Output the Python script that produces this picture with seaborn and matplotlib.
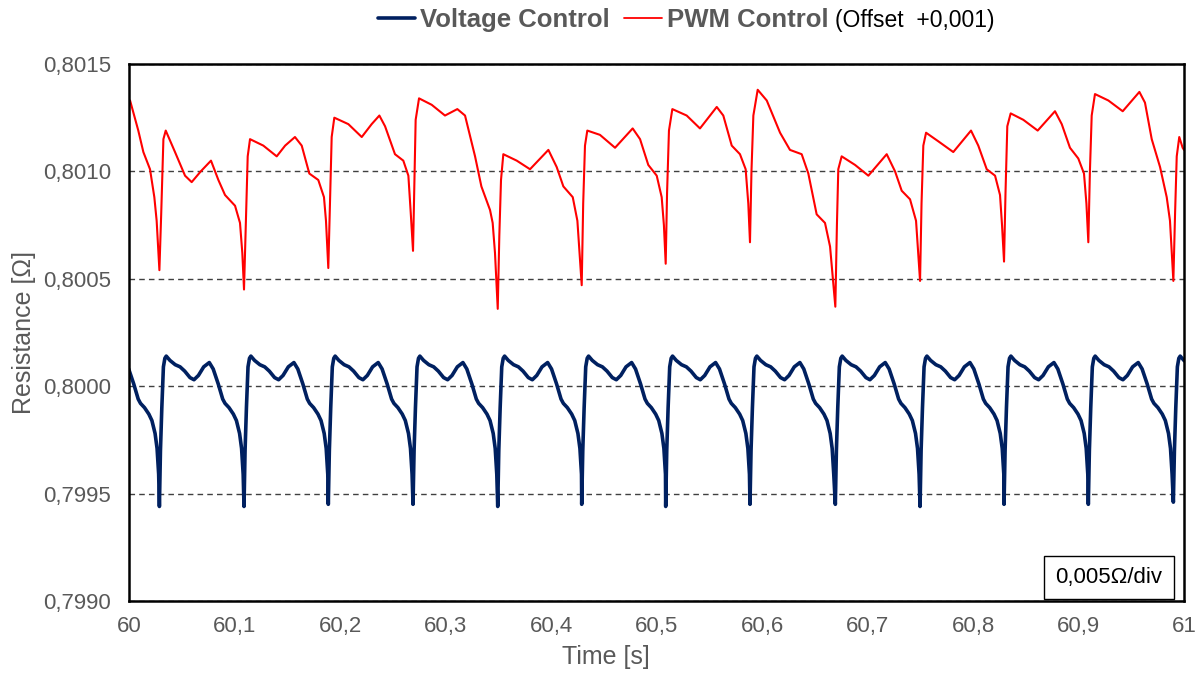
import numpy as np
import pandas as pd
import matplotlib
matplotlib.use("Agg")
import matplotlib.pyplot as plt
import seaborn as sns
from matplotlib.lines import Line2D

# Voltage control: one period, time relative to the dip minimum
vc_shape_dt = [0.0000, 0.0010, 0.0023, 0.0038, 0.0052, 0.0065, 0.0100, 0.0150,
               0.0196, 0.0240, 0.0290, 0.0328, 0.0370, 0.0420, 0.0473, 0.0510,
               0.0558, 0.0600, 0.0622, 0.0660, 0.0701, 0.0730, 0.0760, 0.0779,
               0.0794]
vc_shape_val = [0.79944, 0.79970, 0.79990, 0.80009, 0.80013, 0.80014, 0.80012, 0.80010,
                0.80009, 0.80007, 0.80004, 0.80003, 0.80005, 0.80009, 0.80011, 0.80008,
                0.80001, 0.79994, 0.79992, 0.79990, 0.79987, 0.79984, 0.79978, 0.79971,
                0.79959]

# time of each dip minimum (first one is just before the window) and its depth
dip_times = [59.9487, 60.0288, 60.1090, 60.1889, 60.2692, 60.3495, 60.4291,
             60.5087, 60.5886, 60.6695, 60.7498, 60.8294, 60.9093, 60.9899]
vc_dip_val = [0.79944, 0.79944, 0.79944, 0.79945, 0.79945, 0.79944, 0.79945,
              0.79944, 0.79945, 0.79945, 0.79944, 0.79945, 0.79945, 0.79946]

# PWM control, raw values (plotted with +0.001 offset), time in s after 60 s
pwm_t = [0.0000, 0.0010, 0.0088, 0.0136, 0.0199, 0.0240, 0.0262, 0.0276, 0.0288, 0.0305,
         0.0326, 0.0348, 0.0436, 0.0531, 0.0594, 0.0680, 0.0777, 0.0847, 0.0910, 0.1005,
         0.1052, 0.1074, 0.1090, 0.1110, 0.1125, 0.1147, 0.1273, 0.1400, 0.1480, 0.1573,
         0.1637, 0.1709, 0.1794, 0.1848, 0.1867, 0.1889, 0.1905, 0.1921, 0.1946, 0.2079,
         0.2206, 0.2300, 0.2373, 0.2427, 0.2521, 0.2600, 0.2648, 0.2670, 0.2692, 0.2705,
         0.2717, 0.2749, 0.2869, 0.2995, 0.3112, 0.3185, 0.3280, 0.3340, 0.3422, 0.3447,
         0.3469, 0.3495, 0.3510, 0.3526, 0.3548, 0.3675, 0.3801, 0.3975, 0.4054, 0.4117,
         0.4206, 0.4250, 0.4291, 0.4305, 0.4322, 0.4344, 0.4464, 0.4607, 0.4774, 0.4844,
         0.4922, 0.5002, 0.5049, 0.5070, 0.5087, 0.5100, 0.5118, 0.5150, 0.5286, 0.5412,
         0.5571, 0.5633, 0.5713, 0.5791, 0.5845, 0.5870, 0.5886, 0.5900, 0.5918, 0.5959,
         0.6045, 0.6171, 0.6265, 0.6376, 0.6439, 0.6518, 0.6597, 0.6645, 0.6695, 0.6710,
         0.6723, 0.6755, 0.6882, 0.7008, 0.7182, 0.7261, 0.7324, 0.7403, 0.7460, 0.7498,
         0.7512, 0.7529, 0.7555, 0.7671, 0.7813, 0.7981, 0.8050, 0.8130, 0.8209, 0.8256,
         0.8275, 0.8294, 0.8308, 0.8325, 0.8357, 0.8477, 0.8613, 0.8777, 0.8841, 0.8919,
         0.8998, 0.9052, 0.9075, 0.9093, 0.9108, 0.9125, 0.9156, 0.9283, 0.9419, 0.9577,
         0.9630, 0.9694, 0.9773, 0.9836, 0.9867, 0.9899, 0.9915, 0.9931, 0.9955, 0.9987,
         1.0000]
pwm_val = [0.80032, 0.80033, 0.80019, 0.80009, 0.80001, 0.79988, 0.79977, 0.79965, 0.79954, 0.79980,
           0.80015, 0.80019, 0.80009, 0.79998, 0.79995, 0.80000, 0.80005, 0.79996, 0.79989, 0.79984,
           0.79976, 0.79962, 0.79945, 0.79980, 0.80007, 0.80015, 0.80012, 0.80007, 0.80012, 0.80016,
           0.80012, 0.79999, 0.79996, 0.79988, 0.79977, 0.79955, 0.79985, 0.80016, 0.80025, 0.80022,
           0.80016, 0.80022, 0.80026, 0.80021, 0.80008, 0.80005, 0.79998, 0.79981, 0.79963, 0.79995,
           0.80024, 0.80034, 0.80031, 0.80026, 0.80029, 0.80026, 0.80007, 0.79993, 0.79982, 0.79976,
           0.79962, 0.79936, 0.79970, 0.79996, 0.80008, 0.80005, 0.80001, 0.80010, 0.80002, 0.79993,
           0.79988, 0.79977, 0.79947, 0.79985, 0.80012, 0.80019, 0.80017, 0.80011, 0.80020, 0.80015,
           0.80003, 0.79998, 0.79988, 0.79975, 0.79957, 0.79990, 0.80019, 0.80029, 0.80026, 0.80020,
           0.80030, 0.80026, 0.80012, 0.80008, 0.80001, 0.79985, 0.79967, 0.80000, 0.80026, 0.80038,
           0.80033, 0.80018, 0.80010, 0.80008, 0.79999, 0.79980, 0.79976, 0.79965, 0.79937, 0.79975,
           0.80001, 0.80007, 0.80003, 0.79998, 0.80008, 0.80000, 0.79991, 0.79987, 0.79977, 0.79949,
           0.79985, 0.80012, 0.80018, 0.80014, 0.80009, 0.80019, 0.80012, 0.80001, 0.79998, 0.79989,
           0.79975, 0.79958, 0.79990, 0.80021, 0.80027, 0.80024, 0.80019, 0.80028, 0.80022, 0.80011,
           0.80006, 0.79999, 0.79985, 0.79967, 0.80000, 0.80026, 0.80036, 0.80033, 0.80028, 0.80037,
           0.80032, 0.80015, 0.80002, 0.79988, 0.79977, 0.79949, 0.79980, 0.80007, 0.80016, 0.80011,
           0.80010]
pwm_offset = 0.001

y_ticks = [0.7990, 0.7995, 0.8000, 0.8005, 0.8010, 0.8015]
y_tick_labels = ["0,7990", "0,7995", "0,8000", "0,8005", "0,8010", "0,8015"]
x_ticks = [60.0, 60.1, 60.2, 60.3, 60.4, 60.5, 60.6, 60.7, 60.8, 60.9, 61.0]
x_tick_labels = ["60", "60,1", "60,2", "60,3", "60,4", "60,5", "60,6", "60,7", "60,8", "60,9", "61"]

# build the voltage control trace from the period shape
rows = []
for td, dv in zip(dip_times, vc_dip_val):
    for dt, v in zip(vc_shape_dt, vc_shape_val):
        rows.append((td + dt, dv if dt == 0 else v))
volt = pd.DataFrame(rows, columns=["time", "resistance"])

pwm = pd.DataFrame({"time": 60 + np.array(pwm_t),
                    "resistance": np.array(pwm_val) + pwm_offset})

sns.set_style("white")
plt.rcParams["font.family"] = ["Liberation Sans", "DejaVu Sans"]

navy = "#002060"
grey = "#595959"

fig, ax = plt.subplots(figsize=(11.99, 6.88), dpi=100)
fig.subplots_adjust(left=0.1076, right=0.9875, top=0.907, bottom=0.1265)

sns.lineplot(data=volt, x="time", y="resistance", color=navy, lw=2.6,
             estimator=None, sort=False, ax=ax)
sns.lineplot(data=pwm, x="time", y="resistance", color="#FF0000", lw=1.5,
             estimator=None, sort=False, ax=ax)

ax.set_xlim(60, 61)
ax.set_ylim(0.7990, 0.8015)
ax.set_xticks(x_ticks)
ax.set_xticklabels(x_tick_labels)
ax.set_yticks(y_ticks)
ax.set_yticklabels(y_tick_labels)
ax.tick_params(axis="both", direction="out", length=5, width=1, color="black",
               labelcolor=grey, labelsize=16, pad=6)
ax.tick_params(axis="y", pad=8)

ax.yaxis.grid(True, linestyle=(0, (4, 3)), color="#404040", lw=1)
ax.xaxis.grid(False)
for sp in ax.spines.values():
    sp.set_color("black")
    sp.set_linewidth(1.8)

ax.set_xlabel("Time [s]", fontsize=18, color=grey)
ax.xaxis.set_label_coords(0.452, -0.082)
ax.set_ylabel("Resistance [Ω]", fontsize=18, color=grey, labelpad=5)

ax.text(0.929, 0.043, "0,005Ω/div", transform=ax.transAxes, fontsize=16,
        color="black", ha="center", va="center",
        bbox=dict(boxstyle="square,pad=0.5", fc="white", ec="black", lw=1))

handles = [Line2D([], [], color=navy, lw=2.6), Line2D([], [], color="#FF0000", lw=1.3)]
leg = fig.legend(handles, ["Voltage Control", "PWM Control"], loc="center left",
                 bbox_to_anchor=(378 / 1199, 1 - 20 / 688), frameon=False, ncol=2,
                 handlelength=1.45, handletextpad=0.2, columnspacing=0.55,
                 borderpad=0, borderaxespad=0,
                 prop={"weight": "bold", "size": 18.5})
for t in leg.get_texts():
    t.set_color(grey)
fig.text(835 / 1199, 1 - 20 / 688, "(Offset  +0,001)", fontsize=16.5,
         color="black", ha="left", va="center")

fig.savefig("out.png", dpi=100)
